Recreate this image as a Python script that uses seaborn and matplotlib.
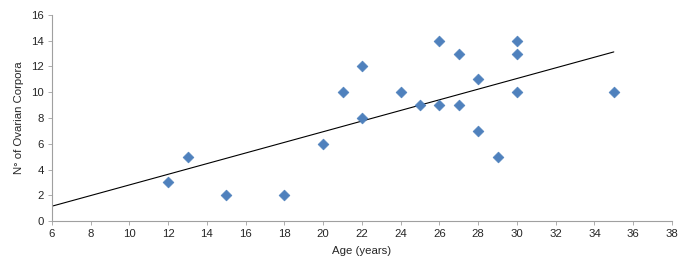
import numpy as np
import pandas as pd
import matplotlib
matplotlib.use('Agg')
import matplotlib.pyplot as plt
import seaborn as sns

# Data
age = [12, 13, 15, 18, 20, 21, 22, 22, 24, 25, 26, 26, 27, 27, 28, 28, 29, 30, 30, 30, 35]
corpora = [3, 5, 2, 2, 6, 10, 12, 8, 10, 9, 14, 9, 13, 9, 11, 7, 5, 14, 13, 10, 10]
x_ticks = list(range(6, 39, 2))
y_ticks = list(range(0, 17, 2))

df = pd.DataFrame({'age': age, 'corpora': corpora})

sns.set_style('white')
plt.rcParams['font.family'] = ['Liberation Sans', 'DejaVu Sans']

fig = plt.figure(figsize=(6.92, 2.67), dpi=100)
ax = fig.add_axes([0.075, 0.172, 0.896, 0.772])

# Linear trendline, extended back to the axis start
z = np.polyfit(df['age'], df['corpora'], 1)
p = np.poly1d(z)
xl = np.array([x_ticks[0], max(age)])
ax.plot(xl, p(xl), color='black', linewidth=0.8, zorder=1)

sns.scatterplot(data=df, x='age', y='corpora', marker='D', s=30, color='#4F81BD',
                edgecolor='#4F81BD', linewidth=0.5, ax=ax, zorder=2)

ax.set_xlim(x_ticks[0], x_ticks[-1])
ax.set_ylim(y_ticks[0], y_ticks[-1])
ax.set_xticks(x_ticks)
ax.set_yticks(y_ticks)
ax.set_xlabel('Age (years)', fontsize=8.2, labelpad=5)
ax.set_ylabel('N° of Ovarian Corpora', fontsize=8.2, labelpad=5)
ax.tick_params(axis='both', labelsize=8.2, length=3, width=0.6, color='#A0A0A0',
               direction='out', pad=3, bottom=True, left=True)

sns.despine(ax=ax)
for s in ['left', 'bottom']:
    ax.spines[s].set_color('#A0A0A0')
    ax.spines[s].set_linewidth(0.8)

fig.savefig('out.png', dpi=100)
